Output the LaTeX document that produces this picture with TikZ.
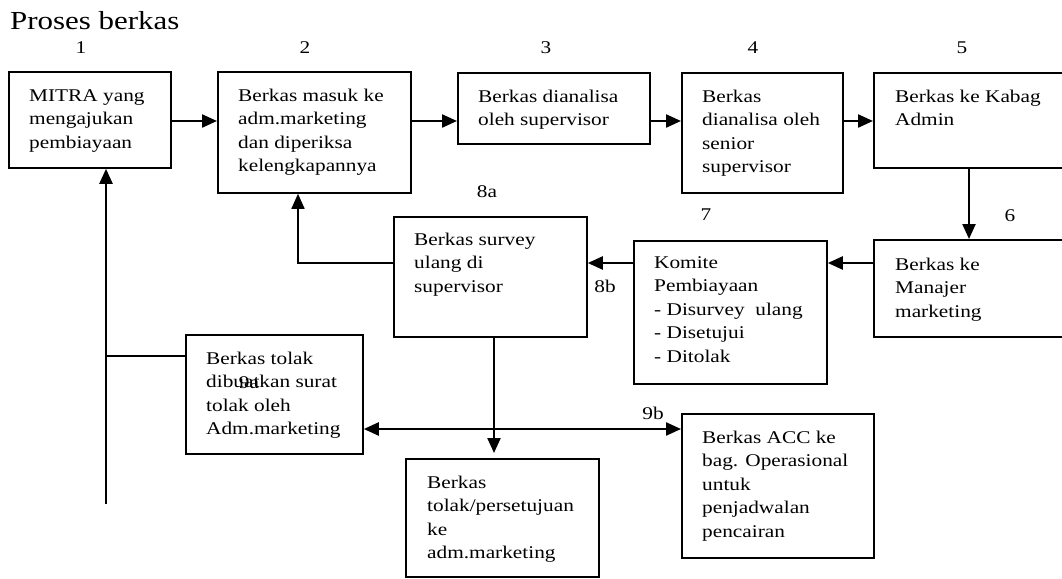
\documentclass[tikz,border=0pt]{standalone}
\usepackage{fontspec}
\setmainfont{Liberation Serif}
\usepackage{graphicx}
\usetikzlibrary{arrows.meta}
\newcommand{\tx}[1]{\scalebox{1.19}[1]{\begin{tabular}[t]{@{}l@{}}#1\end{tabular}}}
\newcommand{\sx}[1]{\scalebox{1.19}[1]{#1}}
\begin{document}
\begin{tikzpicture}[x=1pt,y=-1pt,
  box/.style={draw, line width=1.8pt, inner sep=0pt, anchor=north west},
  txt/.style={inner sep=0pt, anchor=base west, font=\fontsize{17.9}{23.6}\selectfont},
  num/.style={inner sep=0pt, anchor=base, font=\fontsize{17.9}{23.6}\selectfont},
  tip/.style={Triangle[length=15pt,width=13pt]},
  arr/.style={line width=2.3pt, -{Triangle[length=15pt,width=13pt]}},
  thinarr/.style={line width=1.7pt, -{Triangle[length=15pt,width=13pt]}}]
\useasboundingbox (0,0) rectangle (1062,578);
\clip (0,0) rectangle (1062,578);
% title
\node[inner sep=0pt, anchor=base west, font=\fontsize{26}{30}\selectfont] (title) at (10,30) {\sx{Proses berkas}};
% boxes
\node[box, minimum width=162pt, minimum height=96pt] (b1) at (8,71) {};
\node[box, minimum width=193pt, minimum height=121pt] (b2) at (217,71) {};
\node[box, minimum width=192pt, minimum height=71pt] (b3) at (457,72) {};
\node[box, minimum width=161pt, minimum height=120pt] (b4) at (681,72) {};
\node[box, minimum width=220pt, minimum height=95pt] (b5) at (873,72) {};
\node[box, minimum width=220pt, minimum height=97pt] (b6) at (873,239) {};
\node[box, minimum width=193pt, minimum height=143pt] (b7) at (633,240) {};
\node[box, minimum width=193pt, minimum height=120pt] (b8) at (393,216) {};
\node[box, minimum width=177pt, minimum height=119pt] (b9) at (185,334) {};
\node[box, minimum width=193pt, minimum height=118pt] (b10) at (405,458) {};
\node[box, minimum width=192pt, minimum height=144pt] (b11) at (681,413) {};
% texts
\node[txt] (t1) at (29,101) {\tx{MITRA yang\\mengajukan\\pembiayaan}};
\node[txt] (t2) at (238,101) {\tx{Berkas masuk ke\\adm.marketing\\dan diperiksa\\kelengkapannya}};
\node[txt] (t3) at (478,102) {\tx{Berkas dianalisa\\oleh supervisor}};
\node[txt] (t4) at (702,102) {\tx{Berkas\\dianalisa oleh\\senior\\supervisor}};
\node[txt] (t5) at (895,102) {\tx{Berkas ke Kabag\\Admin}};
\node[txt] (t6) at (895,270) {\tx{Berkas ke\\Manajer\\marketing}};
\node[txt] (t7) at (654,268) {\tx{Komite\\Pembiayaan\\- Disurvey\ \ ulang\\- Disetujui\\- Ditolak}};
\node[txt] (t8) at (414,245) {\tx{Berkas survey\\ulang di\\supervisor}};
\node[txt] (t9) at (206,364) {\tx{Berkas tolak\\dibuatkan surat\\tolak oleh\\Adm.marketing}};
\node[txt] (t10) at (427,488) {\tx{Berkas\\tolak/persetujuan\\ke\\adm.marketing}};
\node[txt] (t11) at (702,443) {\tx{Berkas ACC ke\\bag. Operasional\\untuk\\penjadwalan\\pencairan}};
% numbers
\node[num] (n1) at (81,53) {\sx{1}};
\node[num] (n2) at (305,53) {\sx{2}};
\node[num] (n3) at (546,53) {\sx{3}};
\node[num] (n4) at (753,53) {\sx{4}};
\node[num] (n5) at (962,53) {\sx{5}};
\node[num] (n6) at (1010,221) {\sx{6}};
\node[num] (n7) at (706,220) {\sx{7}};
\node[num] (n8a) at (487,197) {\sx{8a}};
\node[num] (n8b) at (605,292) {\sx{8b}};
\node[num] (n9a) at (249,388) {\sx{9a}};
\node[num] (n9b) at (653,419) {\sx{9b}};
% helper coordinates
\coordinate (ya) at (0,121);
\coordinate (yb) at (0,263);
\coordinate (yc) at (0,429);
\coordinate (yd) at (0,356);
\coordinate (x6) at (969,0);
\coordinate (x2) at (298,0);
\coordinate (x8) at (494,0);
\coordinate (lb) at (106,504);
% connectors
\draw[arr] (b1.east |- ya) -- (b2.west |- ya);
\draw[arr] (b2.east |- ya) -- (b3.west |- ya);
\draw[arr] (b3.east |- ya) -- (b4.west |- ya);
\draw[arr] (b4.east |- ya) -- (b5.west |- ya);
\draw[arr] (x6 |- b5.south) -- (x6 |- b6.north);
\draw[arr] (b6.west |- yb) -- (b7.east |- yb);
\draw[arr] (b7.west |- yb) -- (b8.east |- yb);
\draw[thinarr] (b8.west |- yb) -| (x2 |- b2.south);
\draw[arr, shorten >=5pt] (x8 |- b8.south) -- (x8 |- b10.north);
\draw[line width=2.3pt, {Triangle[length=15pt,width=13pt]}-{Triangle[length=15pt,width=13pt]}] (b9.east |- yc) -- (b11.west |- yc);
\draw[arr] (lb) -- (lb |- b1.south);
\draw[line width=1.5pt] (lb |- yd) -- (b9.west |- yd);
\end{tikzpicture}
\end{document}
